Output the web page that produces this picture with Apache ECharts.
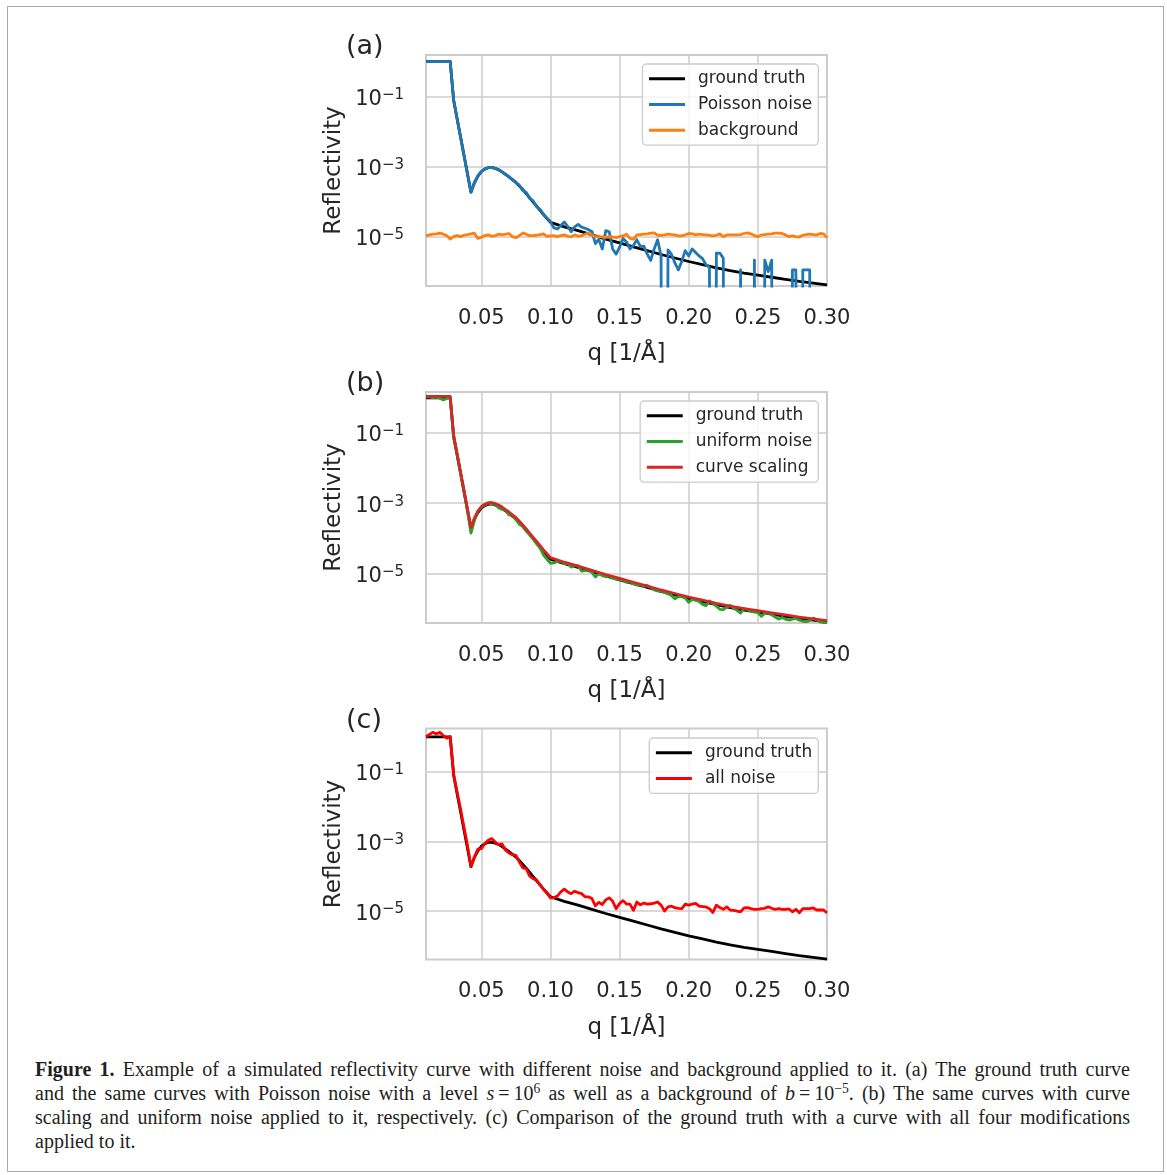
<!DOCTYPE html>
<html>
<head>
<meta charset="utf-8">
<script src="https://cdn.jsdelivr.net/npm/echarts@6/dist/echarts.min.js"></script>
<style>
  html, body { margin: 0; padding: 0; background: #ffffff; }
  #frame { position: absolute; left: 7px; top: 6px; width: 1157px; height: 1166px;
           border: 1.5px solid #a9a9a9; box-sizing: border-box; }
  #chart { position: absolute; left: 0; top: 0; width: 1167px; height: 1045px; }
  #caption { position: absolute; left: 35px; top: 1057px; width: 1095px;
             font-family: 'Liberation Serif', serif; font-size: 20px; line-height: 24px; color: #231f20; }
  #caption .ln { text-align: justify; text-align-last: justify; }
  #caption sup { font-size: 0.68em; line-height: 0; vertical-align: 0.55em; }
</style>
</head>
<body>
<div id="frame"></div>
<div id="chart"></div>
<div id="caption">
  <div class="ln"><b>Figure 1.</b> Example of a simulated reflectivity curve with different noise and background applied to it. (a) The ground truth curve</div>
  <div class="ln">and the same curves with Poisson noise with a level <i>s</i>&thinsp;=&thinsp;10<sup>6</sup> as well as a background of <i>b</i>&thinsp;=&thinsp;10<sup>−5</sup>. (b) The same curves with curve</div>
  <div class="ln">scaling and uniform noise applied to it, respectively. (c) Comparison of the ground truth with a curve with all four modifications</div>
  <div>applied to it.</div>
</div>
<script>
// tick positions
const xTicks = [0.05, 0.10, 0.15, 0.20, 0.25, 0.30];
const yTicks = [1e-5, 1e-3, 1e-1];

// zero counts in the Poisson curve (drawn below the axis, like matplotlib clips them)
const Z = -40;

// q grid of the noisy curves [1/A]
const q = [
  0.01, 0.0125, 0.015, 0.0175, 0.02, 0.0225, 0.025, 0.0275, 0.03, 0.0325,
  0.035, 0.0375, 0.04, 0.0425, 0.045, 0.0475, 0.05, 0.0525, 0.055, 0.0575,
  0.06, 0.0625, 0.065, 0.0675, 0.07, 0.0725, 0.075, 0.0775, 0.08, 0.0825,
  0.085, 0.0875, 0.09, 0.0925, 0.095, 0.0975, 0.1, 0.1025, 0.105, 0.1075,
  0.11, 0.1125, 0.115, 0.1175, 0.12, 0.1225, 0.125, 0.1275, 0.13, 0.1325,
  0.135, 0.1375, 0.14, 0.1425, 0.145, 0.1475, 0.15, 0.1525, 0.155, 0.1575,
  0.16, 0.1625, 0.165, 0.1675, 0.17, 0.1725, 0.175, 0.1775, 0.18, 0.1825,
  0.185, 0.1875, 0.19, 0.1925, 0.195, 0.1975, 0.2, 0.2025, 0.205, 0.2075,
  0.21, 0.2125, 0.215, 0.2175, 0.22, 0.2225, 0.225, 0.2275, 0.23, 0.2325,
  0.235, 0.2375, 0.24, 0.2425, 0.245, 0.2475, 0.25, 0.2525, 0.255, 0.2575,
  0.26, 0.2625, 0.265, 0.2675, 0.27, 0.2725, 0.275, 0.2775, 0.28, 0.2825,
  0.285, 0.2875, 0.29, 0.2925, 0.295, 0.2975, 0.3
];

// q grid of the smooth curves
const gtQ = [
  0.01, 0.0275, 0.03, 0.0325, 0.035, 0.0375, 0.04, 0.0425, 0.045, 0.0475,
  0.05, 0.0525, 0.055, 0.0575, 0.06, 0.0625, 0.065, 0.0675, 0.07, 0.0725,
  0.075, 0.0775, 0.08, 0.0825, 0.085, 0.0875, 0.09, 0.0925, 0.095, 0.0975,
  0.1, 0.11, 0.12, 0.13, 0.14, 0.15, 0.16, 0.17, 0.18, 0.19,
  0.2, 0.21, 0.22, 0.23, 0.24, 0.25, 0.26, 0.27, 0.28, 0.29, 0.3
];

// all curves below are log10(reflectivity)
const groundTruth = [
  0, 0, -1.10, -1.63, -2.15, -2.68, -3.20, -3.73, -3.46, -3.27,
  -3.14, -3.07, -3.03, -3.02, -3.05, -3.09, -3.15, -3.22, -3.29, -3.37,
  -3.45, -3.55, -3.66, -3.77, -3.89, -4.01, -4.13, -4.25, -4.37, -4.48,
  -4.59, -4.72, -4.83, -4.95, -5.07, -5.18, -5.29, -5.40, -5.51, -5.61,
  -5.71, -5.80, -5.89, -5.97, -6.04, -6.10, -6.16, -6.22, -6.28, -6.33, -6.38
];

const curveScaling = [
  0.04, 0.04, -1.06, -1.59, -2.11, -2.64, -3.16, -3.69, -3.42, -3.23,
  -3.10, -3.03, -2.99, -2.98, -3.01, -3.05, -3.11, -3.18, -3.25, -3.33,
  -3.41, -3.51, -3.62, -3.73, -3.85, -3.97, -4.09, -4.21, -4.33, -4.44,
  -4.55, -4.68, -4.79, -4.91, -5.03, -5.14, -5.25, -5.36, -5.47, -5.57,
  -5.67, -5.76, -5.85, -5.93, -6.00, -6.06, -6.12, -6.18, -6.24, -6.29, -6.34
];

const poissonNoise = [
  0, 0, 0, 0, 0, 0, 0, 0, -1.10, -1.63,
  -2.15, -2.68, -3.20, -3.73, -3.46, -3.27, -3.14, -3.07, -3.03, -3.02,
  -3.05, -3.09, -3.15, -3.22, -3.29, -3.37, -3.45, -3.53, -3.68, -3.74,
  -3.91, -3.98, -4.15, -4.22, -4.36, -4.47, -4.57, -4.75, -4.78, -4.68,
  -4.58, -4.71, -4.86, -4.72, -4.65, -4.73, -4.76, -4.80, -4.85, -5.20,
  -5.08, -5.35, -4.83, -4.86, -5.35, -5.50, -5.30, -5.05, -5.15, -5.35,
  -5.25, -5.09, -5.28, -5.27, -5.50, -5.68, -5.35, -5.09, -5.55, Z,
  -5.38, -5.50, -5.75, -5.95, -5.70, -5.40, -5.55, -5.35, -5.45, -5.55,
  -5.63, -5.80, -5.88, Z, -5.47, -5.47, -5.62, Z, Z, Z,
  Z, -5.95, Z, Z, Z, -5.67, Z, Z, -5.67, -6.00,
  -5.67, Z, Z, Z, Z, Z, -5.95, -5.95, Z, -5.95,
  -5.95, -5.95, Z, Z, Z, Z, Z
];

const background = [
  -4.98, -4.95, -4.93, -4.92, -4.90, -4.93, -4.97, -5.07, -5.00, -4.97,
  -5.00, -4.96, -4.94, -4.92, -4.90, -5.05, -5.02, -4.97, -4.95, -4.99,
  -4.97, -4.93, -4.95, -4.93, -4.91, -5.00, -5.03, -4.97, -4.90, -4.93,
  -4.97, -4.97, -4.96, -4.94, -4.92, -4.99, -4.98, -4.97, -5.00, -4.97,
  -4.95, -4.99, -5.00, -4.95, -4.99, -4.97, -4.93, -4.90, -4.95, -5.00,
  -5.00, -5.01, -5.02, -5.00, -5.01, -5.03, -5.00, -4.98, -4.93, -5.05,
  -5.07, -4.95, -4.94, -4.93, -4.92, -4.90, -4.89, -4.96, -4.96, -4.95,
  -4.93, -4.94, -4.95, -4.98, -4.98, -4.95, -4.91, -4.92, -4.95, -4.93,
  -4.94, -4.95, -4.96, -4.98, -4.96, -4.92, -5.00, -4.95, -4.95, -4.95,
  -4.95, -4.94, -4.91, -4.89, -4.92, -4.97, -5.00, -4.95, -4.94, -4.93,
  -4.92, -4.90, -4.90, -4.91, -4.95, -5.00, -4.98, -5.00, -5.01, -4.96,
  -4.94, -4.93, -4.94, -4.95, -4.91, -4.92, -5.03
];

const uniformNoise = [
  0.02, 0.03, 0.00, 0.02, -0.01, -0.06, -0.02, 0.00, -1.15, -1.60,
  -2.17, -2.64, -3.23, -3.85, -3.50, -3.22, -3.12, -3.05, -2.99, -3.04,
  -3.02, -3.13, -3.18, -3.20, -3.33, -3.35, -3.47, -3.60, -3.66, -3.80,
  -3.90, -4.02, -4.16, -4.28, -4.48, -4.60, -4.71, -4.70, -4.65, -4.66,
  -4.72, -4.72, -4.82, -4.78, -4.78, -4.93, -4.92, -4.90, -4.97, -5.10,
  -5.00, -5.06, -5.09, -5.07, -5.14, -5.16, -5.17, -5.20, -5.25, -5.24,
  -5.30, -5.33, -5.32, -5.37, -5.34, -5.40, -5.47, -5.50, -5.50, -5.54,
  -5.58, -5.63, -5.72, -5.66, -5.65, -5.70, -5.82, -5.74, -5.76, -5.80,
  -5.88, -5.92, -5.78, -5.86, -5.93, -6.02, -6.03, -5.96, -5.91, -5.99,
  -6.05, -6.13, -6.00, -6.03, -6.08, -6.10, -6.11, -6.22, -6.14, -6.12,
  -6.18, -6.24, -6.30, -6.25, -6.30, -6.33, -6.30, -6.28, -6.33, -6.36,
  -6.37, -6.34, -6.27, -6.32, -6.38, -6.40, -6.40
];

const allNoise = [
  0.00, 0.07, 0.13, 0.08, 0.13, 0.04, -0.04, 0.01, -1.08, -1.58,
  -2.08, -2.60, -3.12, -3.72, -3.45, -3.22, -3.21, -3.06, -2.97, -2.92,
  -3.02, -3.09, -3.07, -3.25, -3.33, -3.38, -3.40, -3.59, -3.76, -3.78,
  -4.00, -4.07, -4.11, -4.25, -4.38, -4.48, -4.62, -4.62, -4.57, -4.45,
  -4.37, -4.45, -4.50, -4.43, -4.47, -4.50, -4.59, -4.59, -4.64, -4.85,
  -4.75, -4.81, -4.68, -4.62, -4.72, -4.93, -4.78, -4.70, -4.80, -4.80,
  -4.98, -4.74, -4.82, -4.77, -4.80, -4.79, -4.77, -4.74, -4.83, -5.00,
  -4.88, -4.86, -4.90, -4.92, -4.93, -4.80, -4.83, -4.80, -4.78, -4.86,
  -4.87, -4.88, -4.93, -5.04, -4.83, -4.90, -4.95, -4.88, -4.97, -4.98,
  -5.00, -5.02, -4.91, -4.90, -4.93, -4.95, -4.95, -4.93, -4.92, -4.88,
  -4.92, -4.95, -4.93, -4.95, -4.95, -4.94, -5.02, -4.95, -5.05, -4.93,
  -4.93, -4.93, -4.91, -4.97, -4.97, -4.97, -5.05
];

const FONT = 'DejaVu Sans';
const TEXT = '#262626';
const GRID = '#cccccc';

const panels = [
  { tag: '(a)', top: 55, yMin: -6.41, yMax: 0.19, legendTop: 64, lines: [
    { name: 'ground truth', x: gtQ, y: groundTruth, color: '#000000' },
    { name: 'Poisson noise', x: q, y: poissonNoise, color: '#1f77b4' },
    { name: 'background', x: q, y: background, color: '#ff7f0e' }
  ] },
  { tag: '(b)', top: 392, yMin: -6.41, yMax: 0.165, legendTop: 401, lines: [
    { name: 'ground truth', x: gtQ, y: groundTruth, color: '#000000' },
    { name: 'uniform noise', x: q, y: uniformNoise, color: '#2ca02c' },
    { name: 'curve scaling', x: gtQ, y: curveScaling, color: '#d62728' }
  ] },
  { tag: '(c)', top: 728.5, yMin: -6.39, yMax: 0.24, legendTop: 738, lines: [
    { name: 'ground truth', x: gtQ, y: groundTruth, color: '#000000' },
    { name: 'all noise', x: q, y: allNoise, color: '#ff0000' }
  ] }
];

function powerLabel(v) {
  const e = v > 0 ? Math.round(Math.log10(v)) : Math.round(v);
  return '{b|10}{s|' + (e < 0 ? '\u2212' : '') + Math.abs(e) + '}';
}

const grids = [], xAxes = [], yAxes = [], series = [], legends = [], titles = [];

panels.forEach((p, k) => {
  grids.push({
    left: 426, width: 401, top: p.top, height: 231,
    show: true, borderColor: GRID, borderWidth: 2, backgroundColor: 'transparent'
  });
  xAxes.push({
    gridIndex: k, type: 'value', min: 0.01, max: 0.3,
    name: 'q [1/\u00c5]', nameLocation: 'middle', nameGap: 57,
    nameTextStyle: { fontFamily: FONT, fontSize: 23, color: TEXT },
    axisLine: { show: false },
    axisTick: { show: false, customValues: xTicks },
    axisLabel: { customValues: xTicks, formatter: v => v.toFixed(2), margin: 22,
                 fontFamily: FONT, fontSize: 21, color: TEXT },
    splitLine: { show: true, lineStyle: { color: GRID, width: 1.5 } }
  });
  yAxes.push({
    gridIndex: k, type: 'log', logBase: 10,
    min: Math.pow(10, p.yMin), max: Math.pow(10, p.yMax),
    name: 'Reflectivity', nameLocation: 'middle', nameGap: 80, nameRotate: 90,
    nameTextStyle: { fontFamily: FONT, fontSize: 23, color: TEXT },
    axisLine: { show: false },
    axisTick: { show: false, customValues: yTicks },
    axisLabel: {
      customValues: yTicks, margin: 22, formatter: powerLabel, padding: [6, 0, 0, 0],
      rich: {
        b: { fontFamily: FONT, fontSize: 21, color: TEXT, lineHeight: 24 },
        s: { fontFamily: FONT, fontSize: 15, color: TEXT, lineHeight: 15, verticalAlign: 'top' }
      }
    },
    splitLine: { show: true, lineStyle: { color: GRID, width: 1.5 } },
    minorTick: { show: false }, minorSplitLine: { show: false }
  });
  p.lines.forEach(s => {
    series.push({
      type: 'line', name: s.name, xAxisIndex: k, yAxisIndex: k,
      data: s.x.map((x, j) => [x, Math.pow(10, s.y[j])]),
      showSymbol: false, symbol: 'none', clip: true, silent: true,
      lineStyle: { color: s.color, width: 2.8, join: 'round' },
      itemStyle: { color: s.color }
    });
  });
  legends.push({
    data: p.lines.map(s => s.name), orient: 'vertical',
    top: p.legendTop, right: 348.7,
    icon: 'rect', itemWidth: 36, itemHeight: 3, itemGap: 0, selectedMode: false,
    backgroundColor: 'rgba(255,255,255,0.8)', borderColor: GRID, borderWidth: 1.3, borderRadius: 4,
    padding: [2, 6, 2, 6.6],
    textStyle: { fontFamily: FONT, fontSize: 17, color: TEXT, lineHeight: 25.7, padding: [0, 0, 0, 8] }
  });
  titles.push({
    text: p.tag, left: 346, top: p.top - 21.5, padding: 0,
    textStyle: { fontFamily: FONT, fontSize: 27, fontWeight: 'normal', color: TEXT, lineHeight: 27 }
  });
});

const chart = echarts.init(document.getElementById('chart'));
chart.setOption({
  animation: false,
  textStyle: { fontFamily: FONT },
  title: titles,
  grid: grids,
  xAxis: xAxes,
  yAxis: yAxes,
  legend: legends,
  series: series
});
</script>
</body>
</html>
